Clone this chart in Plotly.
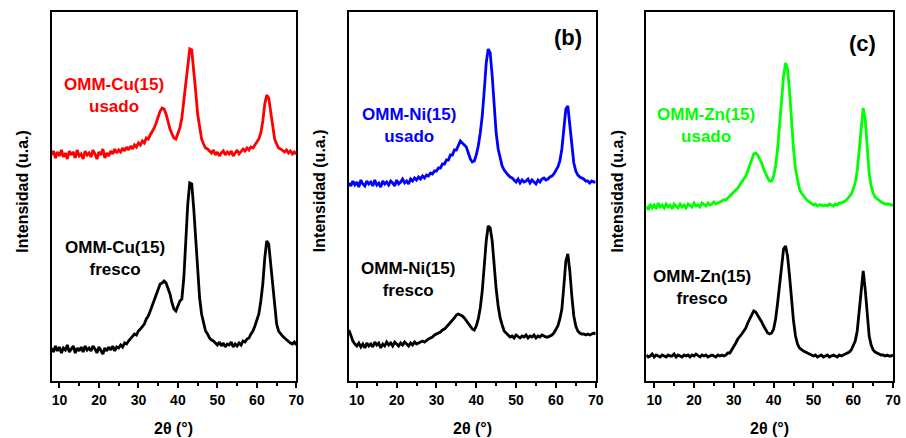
import plotly.graph_objects as go

# 2θ sampling grid (degrees)
two_theta = [8.0, 8.5, 9.0, 9.5, 10.0, 10.5, 11.0, 11.5, 12.0, 12.5,
             13.0, 13.5, 14.0, 14.5, 15.0, 15.5, 16.0, 16.5, 17.0, 17.5,
             18.0, 18.5, 19.0, 19.5, 20.0, 20.5, 21.0, 21.5, 22.0, 22.5,
             23.0, 23.5, 24.0, 24.5, 25.0, 25.5, 26.0, 26.5, 27.0, 27.5,
             28.0, 28.5, 29.0, 29.5, 30.0, 30.5, 31.0, 31.5, 32.0, 32.5,
             33.0, 33.5, 34.0, 34.5, 35.0, 35.5, 36.0, 36.5, 37.0, 37.5,
             38.0, 38.5, 39.0, 39.5, 40.0, 40.5, 41.0, 41.5, 42.0, 42.5,
             43.0, 43.5, 44.0, 44.5, 45.0, 45.5, 46.0, 46.5, 47.0, 47.5,
             48.0, 48.5, 49.0, 49.5, 50.0, 50.5, 51.0, 51.5, 52.0, 52.5,
             53.0, 53.5, 54.0, 54.5, 55.0, 55.5, 56.0, 56.5, 57.0, 57.5,
             58.0, 58.5, 59.0, 59.5, 60.0, 60.5, 61.0, 61.5, 62.0, 62.5,
             63.0, 63.5, 64.0, 64.5, 65.0, 65.5, 66.0, 66.5, 67.0, 67.5,
             68.0, 68.5, 69.0, 69.5, 70.0]

# Intensities (a.u., stacked with offset as displayed)
cu_usado = [226, 230, 223, 229, 225, 231, 224, 228, 222, 230,
            226, 229, 223, 231, 225, 227, 222, 230, 226, 228,
            224, 231, 227, 222, 229, 226, 232, 223, 228, 225,
            230, 227, 232, 228, 231, 229, 233, 230, 234, 231,
            235, 232, 236, 234, 238, 236, 240, 238, 243, 242,
            246, 249, 253, 258, 265, 270, 273, 272, 267, 258,
            252, 247, 243, 242, 247, 253, 263, 280, 300, 320,
            332, 331, 313, 290, 267, 252, 242, 237, 233, 232,
            230, 228, 231, 226, 229, 225, 228, 230, 226, 229,
            227, 230, 225, 228, 231, 227, 229, 232, 230, 233,
            231, 234, 233, 236, 238, 242, 248, 260, 277, 286,
            283, 270, 253, 242, 237, 233, 232, 230, 229, 231,
            228, 230, 227, 229, 227]

cu_fresco = [33, 29, 35, 30, 34, 28, 33, 31, 36, 29,
             32, 35, 28, 33, 30, 34, 29, 35, 31, 33,
             30, 35, 32, 28, 34, 31, 27, 33, 30, 34,
             31, 35, 30, 34, 33, 36, 34, 38, 37, 40,
             42, 44, 47, 46, 50, 52, 55, 57, 62, 65,
             70, 75, 80, 86, 92, 97, 98, 100, 98, 93,
             87, 78, 72, 70, 75, 80, 82, 103, 140, 177,
             198, 197, 173, 140, 107, 83, 67, 57, 50, 47,
             43, 41, 40, 38, 36, 39, 35, 38, 34, 37,
             36, 39, 34, 37, 35, 38, 36, 40, 39, 42,
             43, 47, 50, 55, 60, 67, 80, 97, 123, 140,
             137, 117, 90, 70, 57, 50, 47, 45, 43, 41,
             40, 38, 37, 39, 36]

ni_usado = [198, 195, 200, 196, 199, 194, 201, 197, 195, 200,
            197, 199, 195, 201, 196, 198, 194, 200, 197, 199,
            196, 200, 198, 195, 201, 197, 199, 202, 198, 200,
            197, 202, 200, 203, 201, 204, 202, 205, 203, 206,
            205, 208, 207, 210, 210, 213, 213, 217, 217, 221,
            221, 226, 226, 231, 231, 236, 240, 238, 236, 234,
            228, 222, 219, 220, 226, 235, 248, 265, 290, 318,
            332, 328, 305, 272, 248, 232, 222, 215, 211, 208,
            206, 204, 203, 201, 199, 202, 198, 201, 199, 200,
            202, 198, 201, 199, 197, 201, 199, 202, 203, 201,
            202, 204, 205, 207, 210, 214, 220, 232, 252, 272,
            275, 258, 235, 218, 210, 206, 204, 203, 202, 200,
            200, 198, 200, 199, 199]

ni_fresco = [51, 45, 40, 37, 35, 38, 34, 37, 33, 38,
             35, 37, 34, 39, 36, 38, 33, 37, 35, 39,
             36, 38, 35, 39, 37, 35, 38, 36, 39, 37,
             35, 38, 36, 39, 37, 38, 39, 40, 39, 41,
             42, 43, 44, 46, 47, 48, 49, 51, 52, 54,
             56, 58, 61, 63, 66, 67, 66, 65, 63, 60,
             58, 55, 52, 51, 55, 62, 73, 90, 115, 140,
             155, 153, 140, 115, 92, 75, 63, 56, 50, 48,
             46, 44, 45, 43, 46, 44, 43, 45, 44, 46,
             43, 45, 44, 46, 43, 45, 44, 46, 45, 44,
             44, 45, 46, 48, 51, 55, 62, 72, 95, 120,
             127, 110, 85, 65, 55, 50, 48, 47, 47, 46,
             47, 46, 47, 48, 47]

zn_usado = [175, 171, 177, 173, 176, 172, 178, 174, 176, 173,
            177, 174, 176, 172, 177, 175, 173, 177, 174, 176,
            173, 177, 175, 174, 178, 175, 176, 174, 178, 176,
            175, 178, 176, 177, 179, 177, 178, 179, 180, 181,
            181, 183, 184, 186, 188, 190, 193, 196, 199, 202,
            205, 210, 215, 222, 227, 228, 226, 222, 218, 212,
            207, 203, 200, 200, 205, 215, 232, 255, 285, 305,
            318, 312, 290, 258, 232, 212, 200, 192, 188, 185,
            182, 180, 179, 177, 176, 177, 175, 176, 176, 175,
            176, 175, 177, 176, 175, 177, 176, 178, 178, 179,
            180, 182, 184, 187, 192, 198, 210, 230, 255, 273,
            262, 232, 208, 195, 188, 184, 182, 181, 179, 178,
            177, 177, 177, 176, 176]

zn_fresco = [26, 24, 25, 27, 24, 26, 25, 24, 26, 25,
             24, 26, 25, 25, 27, 24, 26, 25, 24, 26,
             25, 26, 24, 26, 25, 27, 25, 24, 26, 25,
             26, 24, 25, 26, 25, 24, 26, 25, 26, 25,
             26, 28, 28, 31, 35, 38, 42, 44, 47, 50,
             53, 58, 62, 67, 70, 69, 66, 63, 59, 55,
             51, 48, 47, 48, 52, 62, 78, 98, 118, 132,
             135, 125, 105, 80, 60, 45, 37, 33, 31, 30,
             29, 28, 27, 26, 25, 26, 24, 25, 26, 24,
             25, 26, 24, 25, 26, 25, 24, 26, 25, 26,
             27, 28, 29, 31, 35, 40, 50, 70, 97, 110,
             92, 65, 45, 36, 31, 29, 28, 27, 26, 26,
             25, 26, 25, 25, 26]

x_ticks = [10, 20, 30, 40, 50, 60, 70]
x_minor = [15, 25, 35, 45, 55, 65]
panel_tags = ["", "(b)", "(c)"]
usado_labels = ["OMM-Cu(15)<br>usado", "OMM-Ni(15)<br>usado", "OMM-Zn(15)<br>usado"]
fresco_labels = ["OMM-Cu(15)<br>fresco", "OMM-Ni(15)<br>fresco", "OMM-Zn(15)<br>fresco"]
usado_colors = ["#FF0000", "#0000FF", "#00FF00"]
x_title = "2θ (°)"
y_title = "Intensidad (u.a.)"

W, H = 906, 438
FONT = "Arial, 'Liberation Sans', sans-serif"

panels_px = [(52, 299), (352, 601), (652, 901)]
top_px, bot_px = 12, 381
ydom = [1 - bot_px / H, 1 - top_px / H]

usado_series = [cu_usado, ni_usado, zn_usado]
fresco_series = [cu_fresco, ni_fresco, zn_fresco]

fig = go.Figure()
layout = dict(
    width=W, height=H,
    margin=dict(l=0, r=0, t=0, b=0),
    paper_bgcolor="white", plot_bgcolor="white",
    showlegend=False,
)

annotations = []
usado_pos = [(23.8, 286), (23.2, 256), (22.9, 256)]
fresco_pos = [(24.1, 123), (22.9, 102), (21.9, 94)]
tag_pos = [(63.0, 344), (63.0, 344), (62.3, 338)]

for i in range(3):
    xa = "x" if i == 0 else f"x{i+1}"
    ya = "y" if i == 0 else f"y{i+1}"
    xkey = "xaxis" if i == 0 else f"xaxis{i+1}"
    ykey = "yaxis" if i == 0 else f"yaxis{i+1}"
    l, r = panels_px[i]
    fig.add_trace(go.Scatter(x=two_theta, y=fresco_series[i], mode="lines",
                             line=dict(color="black", width=2.8),
                             xaxis=xa, yaxis=ya, hoverinfo="skip"))
    fig.add_trace(go.Scatter(x=two_theta, y=usado_series[i], mode="lines",
                             line=dict(color=usado_colors[i], width=2.8),
                             xaxis=xa, yaxis=ya, hoverinfo="skip"))
    layout[xkey] = dict(
        domain=[l / W, r / W], range=[8, 70], anchor=ya,
        showline=True, linecolor="black", linewidth=2, mirror=True,
        showgrid=False, zeroline=False,
        tickmode="array", tickvals=x_ticks,
        ticks="outside", ticklen=5, tickwidth=2, tickcolor="black",
        minor=dict(tickmode="array", tickvals=x_minor,
                   ticks="outside", ticklen=3, tickwidth=2, tickcolor="black"),
        tickfont=dict(family=FONT, size=14, color="black", weight="bold"),
    )
    layout[ykey] = dict(
        domain=ydom, range=[0, 369], anchor=xa,
        showline=True, linecolor="black", linewidth=2, mirror=True,
        showgrid=False, zeroline=False, showticklabels=False, ticks="",
    )
    annotations.append(dict(x=usado_pos[i][0], y=usado_pos[i][1], xref=xa, yref=ya,
                            xanchor="center", yanchor="middle",
                            text=usado_labels[i], showarrow=False, align="center",
                            font=dict(family=FONT, size=17, color=usado_colors[i], weight="bold")))
    annotations.append(dict(x=fresco_pos[i][0], y=fresco_pos[i][1], xref=xa, yref=ya,
                            xanchor="center", yanchor="middle",
                            text=fresco_labels[i], showarrow=False, align="center",
                            font=dict(family=FONT, size=17, color="black", weight="bold")))
    if panel_tags[i]:
        annotations.append(dict(x=tag_pos[i][0], y=tag_pos[i][1], xref=xa, yref=ya,
                                xanchor="center", yanchor="middle",
                                text=panel_tags[i], showarrow=False,
                                font=dict(family=FONT, size=22, color="black", weight="bold")))
    # axis titles
    annotations.append(dict(x=(l + r) / 2 / W, y=1 - 428 / H, xref="paper", yref="paper",
                            xanchor="center", yanchor="middle",
                            text=x_title, showarrow=False,
                            font=dict(family=FONT, size=16, color="black", weight="bold")))
    annotations.append(dict(x=(l - 30) / W, y=1 - 191 / H, xref="paper", yref="paper",
                            xanchor="center", yanchor="middle",
                            text=y_title, showarrow=False, textangle=-90,
                            font=dict(family=FONT, size=16, color="black", weight="bold")))

layout["annotations"] = annotations
fig.update_layout(**layout)
# remove the default page margin so the 906x438 figure fills the window exactly
fig.write_html("out.html",
               config={"displayModeBar": False},
               post_script="document.body.style.margin='0';document.body.style.padding='0';"
                           "document.documentElement.style.overflow='hidden';")
